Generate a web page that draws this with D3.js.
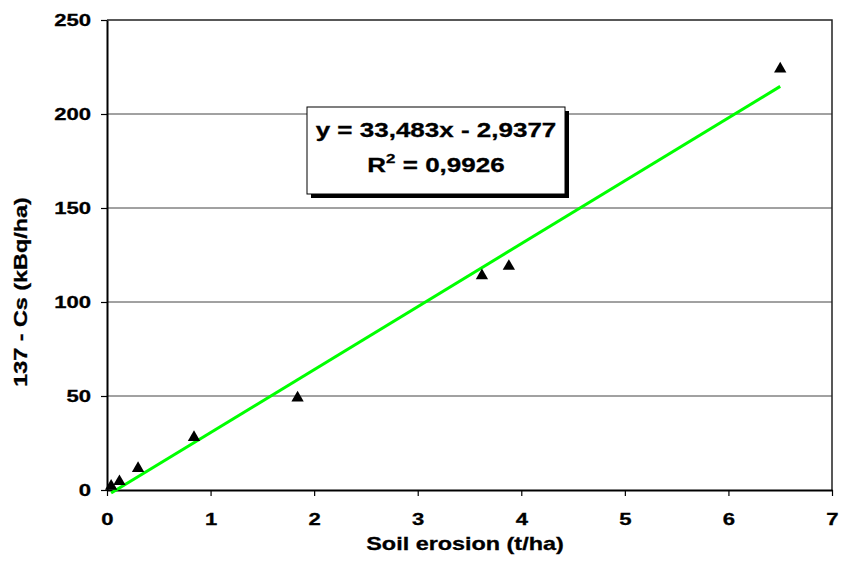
<!DOCTYPE html>
<html>
<head>
<meta charset="utf-8">
<script src="https://cdn.jsdelivr.net/npm/d3@7"></script>
<style>
  body { margin: 0; background: #fff; }
  text { font-family: "Liberation Sans", Arial, sans-serif; font-weight: bold; fill: #000; }
</style>
</head>
<body>
<div id="chart"></div>
<script>
const erosion = [0.04, 0.12, 0.3, 0.84, 1.84, 3.62, 3.88, 6.5];
const cesium = [2, 4.5, 11.5, 28, 49, 114, 119, 224];
const xTicks = [0, 1, 2, 3, 4, 5, 6, 7];
const yTicks = [0, 50, 100, 150, 200, 250];
const slope = 33.483,
  intercept = -2.9377;
const eqLine = "y = 33,483x - 2,9377";
const r2Value = "0,9926";

const W = 841, H = 562;
const margin = { top: 20, right: 9, bottom: 72, left: 107 },
  width = W - margin.left - margin.right,
  height = H - margin.top - margin.bottom;
const SX = 1.3; // text in the original is stretched wide

const svg = d3.select("#chart").append("svg")
  .attr("width", W).attr("height", H);

const g = svg.append("g")
  .attr("transform", `translate(${margin.left}, ${margin.top})`);

const x = d3.scaleLinear().domain([0, 7]).range([0, width]);
const y = d3.scaleLinear().domain([0, 250]).range([height, 0]);

// grid lines
g.selectAll(".grid").data(yTicks.slice(1, -1)).join("line")
  .attr("x1", 0).attr("x2", width)
  .attr("y1", d => y(d)).attr("y2", d => y(d))
  .attr("stroke", "#444").attr("stroke-width", 1);

// plot frame top and right
g.append("path").attr("d", `M0,0H${width}V${height}`)
  .attr("fill", "none").attr("stroke", "#222").attr("stroke-width", 1.5);

// axes
const xAxis = g.append("g").attr("transform", `translate(0, ${height})`)
  .call(d3.axisBottom(x).tickValues(xTicks).tickFormat(d3.format("d"))
    .tickSize(6).tickSizeOuter(0).tickPadding(17));
const yAxis = g.append("g")
  .call(d3.axisLeft(y).tickValues(yTicks).tickFormat(d3.format("d"))
    .tickSize(6).tickSizeOuter(0).tickPadding(10));

[xAxis, yAxis].forEach(a => {
  a.select(".domain").attr("stroke", "#000").attr("stroke-width", 2);
  a.selectAll(".tick line").attr("stroke", "#000").attr("stroke-width", 1.2);
  a.selectAll(".tick text").attr("font-size", 17).attr("font-family", null)
    .attr("stroke", "#000").attr("stroke-width", 0.3);
});
xAxis.selectAll(".tick text").attr("transform", `scale(${SX},1)`);
yAxis.selectAll(".tick text")
  .attr("x", -16 / SX).attr("transform", `scale(${SX},1)`);

// trend line
const line = d3.line().x(d => x(d)).y(d => y(slope * d + intercept));
g.append("path")
  .datum([d3.min(erosion), d3.max(erosion)])
  .attr("d", line)
  .attr("fill", "none").attr("stroke", "#00ff00").attr("stroke-width", 3);

// points
const pts = erosion.map((d, i) => [d, cesium[i]]);
g.selectAll(".pt").data(pts).join("path")
  .attr("d", d3.symbol(d3.symbolTriangle, 66))
  .attr("transform", d => `translate(${x(d[0])}, ${y(d[1])})`)
  .attr("fill", "#000");

// equation box
const box = svg.append("g").attr("transform", "translate(307, 107)");
box.append("rect").attr("x", 4).attr("y", 4).attr("width", 258).attr("height", 87).attr("fill", "#000");
box.append("rect").attr("width", 258).attr("height", 87)
  .attr("fill", "#fff").attr("stroke", "#000").attr("stroke-width", 1);
box.append("text").attr("transform", `translate(129, 30) scale(${SX},1)`)
  .attr("text-anchor", "middle").attr("font-size", 20)
  .attr("stroke", "#000").attr("stroke-width", 0.3).text(eqLine);
const r2 = box.append("text").attr("transform", `translate(129, 65) scale(${SX},1)`)
  .attr("text-anchor", "middle").attr("font-size", 20)
  .attr("stroke", "#000").attr("stroke-width", 0.3);
r2.append("tspan").text("R");
r2.append("tspan").attr("font-size", 13).attr("dy", -9).text("2");
r2.append("tspan").attr("dy", 9).text(" = " + r2Value);

// axis titles
svg.append("text").attr("transform", `translate(465, 550) scale(${SX},1)`)
  .attr("text-anchor", "middle").attr("font-size", 18)
  .attr("stroke", "#000").attr("stroke-width", 0.3).text("Soil erosion (t/ha)");
svg.append("text").attr("transform", `translate(27, 292) rotate(-90) scale(${SX},1)`)
  .attr("text-anchor", "middle").attr("font-size", 18)
  .attr("stroke", "#000").attr("stroke-width", 0.3).text("137 - Cs (kBq/ha)");
</script>
</body>
</html>
